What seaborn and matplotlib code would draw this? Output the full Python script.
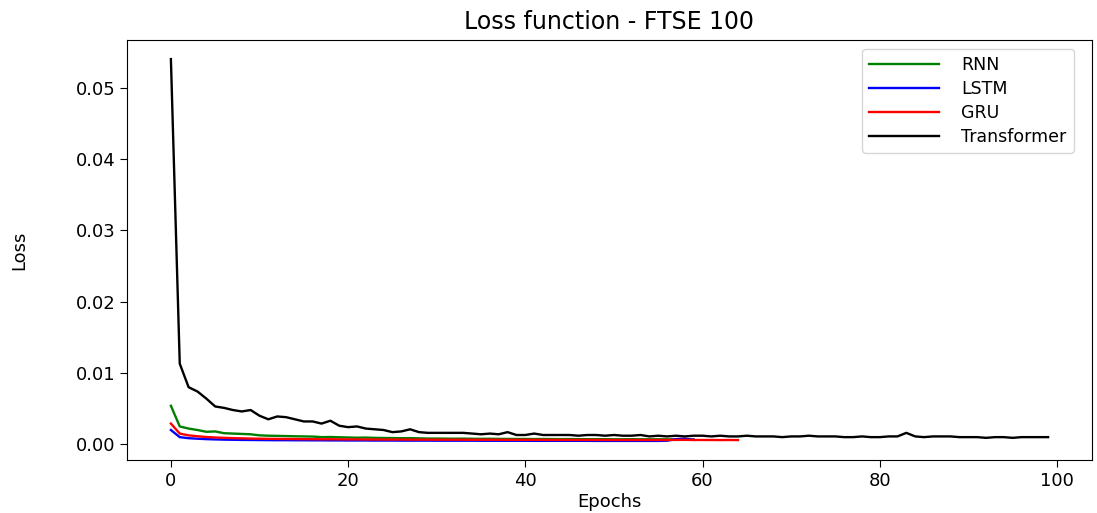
import numpy as np
import pandas as pd
import matplotlib
matplotlib.use("Agg")
import matplotlib.pyplot as plt
import seaborn as sns

# Training loss per epoch for each model on the FTSE 100 series
rnn_loss = [
    0.00540, 0.00250, 0.00220, 0.00200, 0.00175, 0.00180, 0.00155, 0.00150, 0.00145, 0.00140,
    0.00125, 0.00120, 0.00118, 0.00115, 0.00112, 0.00110, 0.00108, 0.00100, 0.00102, 0.00098,
    0.00095, 0.00092, 0.00094, 0.00090, 0.00088, 0.00087, 0.00085, 0.00086, 0.00083, 0.00080,
    0.00080, 0.00079, 0.00078, 0.00079, 0.00077, 0.00076, 0.00077, 0.00075, 0.00075, 0.00074,
    0.00074, 0.00073, 0.00074, 0.00073, 0.00072, 0.00073, 0.00072, 0.00071, 0.00072, 0.00071,
    0.00070, 0.00070, 0.00071, 0.00070, 0.00069, 0.00070, 0.00069, 0.00068, 0.00069, 0.00068,
]
lstm_loss = [
    0.00200, 0.00100, 0.00085, 0.00078, 0.00072, 0.00068, 0.00065, 0.00063, 0.00061, 0.00060,
    0.00059, 0.00058, 0.00057, 0.00057, 0.00056, 0.00056, 0.00055, 0.00055, 0.00054, 0.00054,
    0.00053, 0.00053, 0.00053, 0.00052, 0.00052, 0.00052, 0.00051, 0.00051, 0.00051, 0.00051,
    0.00050, 0.00050, 0.00050, 0.00050, 0.00050, 0.00049, 0.00049, 0.00049, 0.00049, 0.00049,
    0.00049, 0.00048, 0.00048, 0.00048, 0.00048, 0.00048, 0.00048, 0.00048, 0.00047, 0.00047,
    0.00047, 0.00047, 0.00047, 0.00047, 0.00047, 0.00047, 0.00050, 0.00072, 0.00078, 0.00062,
]
gru_loss = [
    0.00290, 0.00150, 0.00125, 0.00112, 0.00102, 0.00095, 0.00090, 0.00086, 0.00083, 0.00080,
    0.00078, 0.00076, 0.00075, 0.00074, 0.00073, 0.00072, 0.00071, 0.00070, 0.00070, 0.00069,
    0.00068, 0.00068, 0.00067, 0.00067, 0.00066, 0.00066, 0.00066, 0.00065, 0.00065, 0.00065,
    0.00064, 0.00064, 0.00064, 0.00064, 0.00063, 0.00063, 0.00063, 0.00063, 0.00062, 0.00062,
    0.00062, 0.00062, 0.00062, 0.00061, 0.00061, 0.00061, 0.00061, 0.00061, 0.00061, 0.00060,
    0.00060, 0.00060, 0.00060, 0.00060, 0.00060, 0.00060, 0.00060, 0.00061, 0.00062, 0.00060,
    0.00060, 0.00060, 0.00059, 0.00060, 0.00059,
]
transformer_loss = [
    0.0540, 0.0113, 0.0080, 0.0074, 0.0064, 0.0053, 0.0051, 0.0048, 0.0046, 0.0048,
    0.0040, 0.0035, 0.0039, 0.0038, 0.0035, 0.0032, 0.0032, 0.0029, 0.0033, 0.0026,
    0.0024, 0.0025, 0.0022, 0.0021, 0.0020, 0.0017, 0.0018, 0.0021, 0.0017, 0.0016,
    0.0016, 0.0016, 0.0016, 0.0016, 0.0015, 0.0014, 0.0015, 0.0014, 0.0017, 0.0013,
    0.0013, 0.0015, 0.0013, 0.0013, 0.0013, 0.0013, 0.0012, 0.0013, 0.0013, 0.0012,
    0.0013, 0.0012, 0.0012, 0.0013, 0.0011, 0.0012, 0.0011, 0.0012, 0.0011, 0.0012,
    0.0012, 0.0011, 0.0012, 0.0011, 0.0011, 0.0012, 0.0011, 0.0011, 0.0011, 0.0010,
    0.0011, 0.0011, 0.0012, 0.0011, 0.0011, 0.0011, 0.0010, 0.0010, 0.0011, 0.0010,
    0.0010, 0.0011, 0.0011, 0.0016, 0.0011, 0.0010, 0.0011, 0.0011, 0.0011, 0.0010,
    0.0010, 0.0010, 0.0009, 0.0010, 0.0010, 0.0009, 0.0010, 0.0010, 0.0010, 0.0010,
]

models = ["RNN", "LSTM", "GRU", "Transformer"]
colors = ["green", "blue", "red", "black"]
x_ticks = [0, 20, 40, 60, 80, 100]
y_ticks = [0.00, 0.01, 0.02, 0.03, 0.04, 0.05]

series = {"RNN": rnn_loss, "LSTM": lstm_loss, "GRU": gru_loss, "Transformer": transformer_loss}
frames = []
for name in models:
    vals = series[name]
    frames.append(pd.DataFrame({"Epoch": np.arange(len(vals)), "Loss": vals, "Model": name}))
df = pd.concat(frames, ignore_index=True)

fig = plt.figure(figsize=(10.97, 5.13), dpi=100)
ax = fig.add_axes([0.1158, 0.1033, 0.8796, 0.8187])

sns.lineplot(data=df, x="Epoch", y="Loss", hue="Model", hue_order=models,
             palette=dict(zip(models, colors)), linewidth=1.7, ax=ax)

ax.set_xticks(x_ticks)
ax.set_yticks(y_ticks)
ax.set_yticklabels([f"{v:.2f}" for v in y_ticks])
ax.tick_params(axis="both", labelsize=13, length=5)
ax.set_xlabel("Epochs", fontsize=13, labelpad=2)
ax.set_ylabel("Loss", fontsize=13)
ax.yaxis.set_label_coords(-0.102, 0.5)
ax.set_title("Loss function - FTSE 100", fontsize=17, pad=8)

handles, labels = ax.get_legend_handles_labels()
ax.legend(handles, labels, loc="upper right", fontsize=12.5, handlelength=4.0,
          handletextpad=1.3, labelspacing=0.35, borderpad=0.4,
          bbox_to_anchor=(0.99, 1.0))

fig.savefig("out.png", dpi=100)
